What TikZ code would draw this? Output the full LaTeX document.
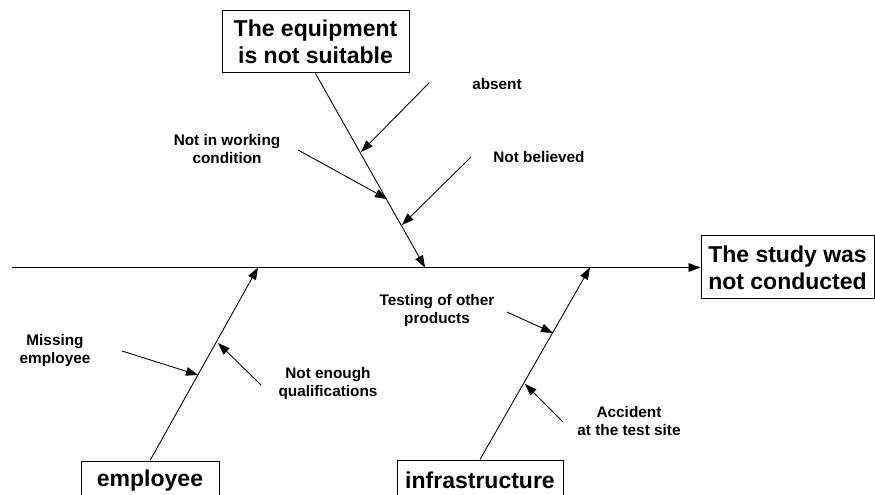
\documentclass[tikz,border=0pt]{standalone}
\usepackage{fontspec}
\setmainfont{Liberation Sans}
\usetikzlibrary{arrows.meta}
\tikzset{
  arr/.style={draw=black, line width=0.65pt, -{Triangle[length=9pt,width=6.5pt]}},
  bone/.style={draw=black, line width=0.65pt},
  bigbox/.style={draw=black, line width=0.75pt, fill=white, inner sep=0pt, align=center,
    font=\fontsize{17.25}{20.25}\selectfont\bfseries},
  lbl/.style={inner sep=0pt, align=center, font=\fontsize{11.5}{13.5}\selectfont\bfseries},
}
\begin{document}
\begin{tikzpicture}[x=0.75pt, y=-0.75pt]
\useasboundingbox (0,0) rectangle (875,495);
% boxes
\node[bigbox, minimum width=140.25pt, minimum height=46.5pt] (equip) at (315.5,42) {The equipment\\is not suitable};
\node[bigbox, minimum width=129.75pt, minimum height=47.25pt] (effect) at (787.5,267.5) {The study was\\not conducted};
\node[bigbox, minimum width=103.5pt, minimum height=30pt] (emp) at (150,481) {employee};
\node[bigbox, minimum width=124.5pt, minimum height=30pt] (infra) at (480,480) {infrastructure};
% spine
\coordinate (mL) at (12,267.5);
\draw[arr] (mL) -- (effect.west);
% bone tips on spine
\coordinate (tTop) at (425,267.5);
\coordinate (tEmp) at (258,267.5);
\coordinate (tInf) at (590,267.5);
\draw[arr] (equip.south) -- (tTop);
\draw[arr] (emp.north) -- (tEmp);
\draw[arr] (infra.north) -- (tInf);
% labels
\node[lbl] (absent) at (497,84) {absent};
\node[lbl] (notwork) at (227,149) {Not in working\\condition};
\node[lbl] (believed) at (539,157) {Not believed};
\node[lbl] (missing) at (55,351) {Missing\\employee};
\node[lbl] (qual) at (328,384) {Not enough\\qualifications};
\node[lbl] (testing) at (437,311) {Testing of other\\products};
\node[lbl] (accident) at (629,421) {Accident\\at the test site};
% sub-arrow starts
\coordinate (sAbsent) at (429,83);
\coordinate (sNotwork) at (298,150);
\coordinate (sBelieved) at (471,157);
\coordinate (sMissing) at (122,351);
\coordinate (sQual) at (261,385);
\coordinate (sTesting) at (507,312);
\coordinate (sAccident) at (563,422);
% sub-arrow tips
\coordinate (eAbsent) at (361,152);
\coordinate (eNotwork) at (387,199);
\coordinate (eBelieved) at (402,225);
\coordinate (eMissing) at (198,375);
\coordinate (eQual) at (218,343);
\coordinate (eTesting) at (553,333);
\coordinate (eAccident) at (525,384);
\draw[arr] (sAbsent) -- (eAbsent);
\draw[arr] (sNotwork) -- (eNotwork);
\draw[arr] (sBelieved) -- (eBelieved);
\draw[arr] (sMissing) -- (eMissing);
\draw[arr] (sQual) -- (eQual);
\draw[arr] (sTesting) -- (eTesting);
\draw[arr] (sAccident) -- (eAccident);
\end{tikzpicture}
\end{document}
